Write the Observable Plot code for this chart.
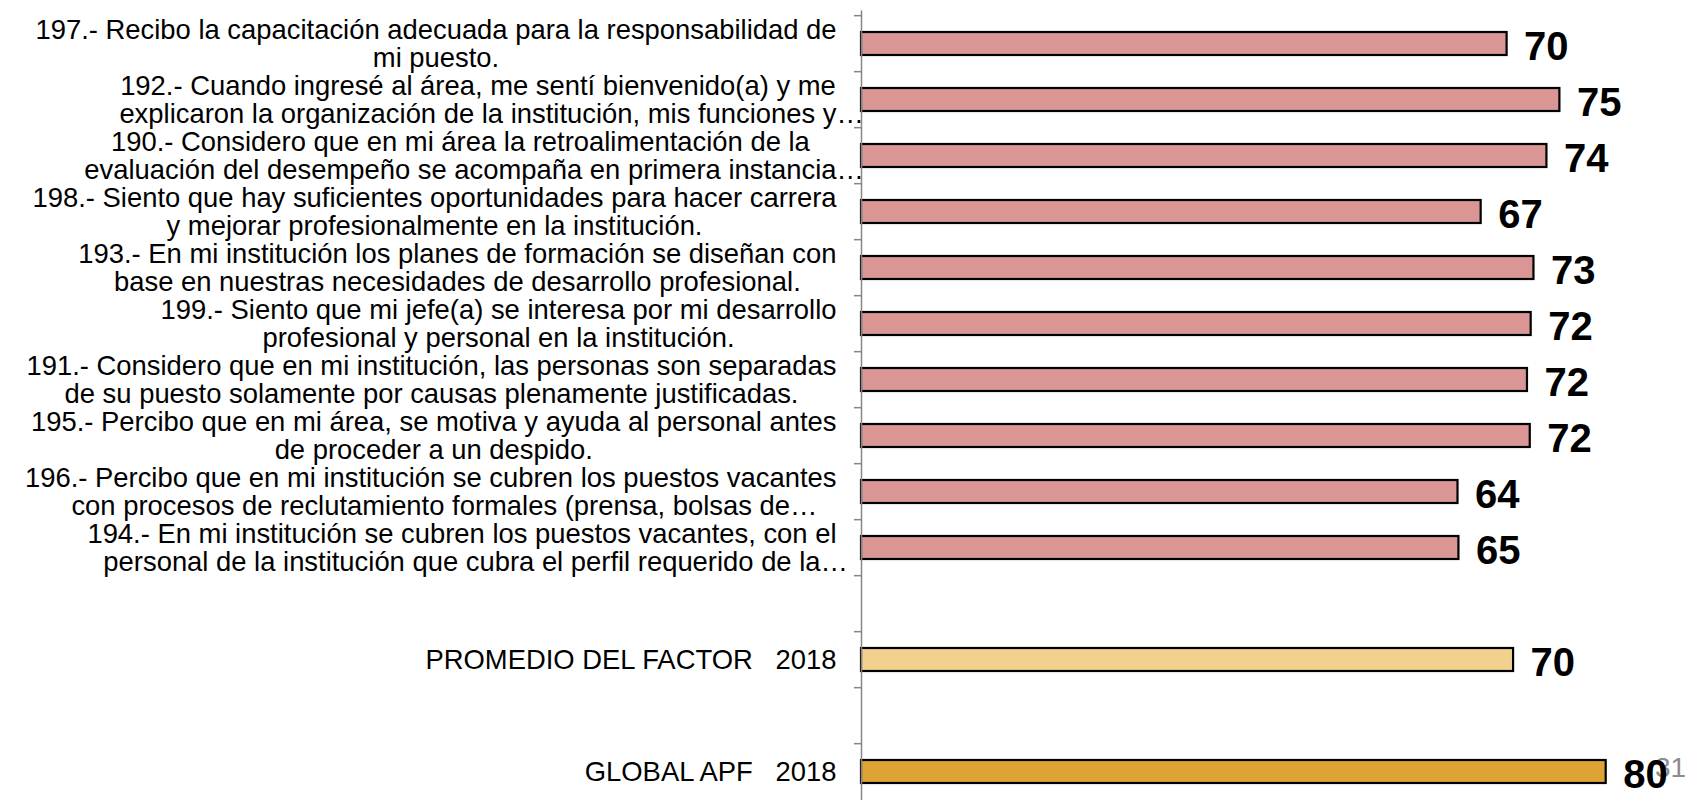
<!DOCTYPE html>
<html>
<head>
<meta charset="utf-8">
<script src="https://cdn.jsdelivr.net/npm/d3@7"></script>
<script src="https://cdn.jsdelivr.net/npm/@observablehq/plot@0.6"></script>
<style>
  html, body { margin: 0; padding: 0; background: #fff; overflow: hidden; }
  #page { position: relative; width: 1689px; height: 800px; }
  #pagenum { position: absolute; left: 1655px; top: 754px; font: 28px "Liberation Sans", Arial, sans-serif; color: #8c8c8c; line-height: 1; }
  #chart { position: absolute; left: 0; top: 0; }
</style>
</head>
<body>
<div id="page">
  <div id="pagenum">31</div>
  <div id="chart"></div>
</div>
<script>
// ---- data ----
const questionIds = ["197", "192", "190", "198", "193", "199", "191", "195", "196", "194"];
const questionLabels = [
  "197.- Recibo la capacitación adecuada para la responsabilidad de\nmi puesto.",
  "192.- Cuando ingresé al área, me sentí bienvenido(a) y me\nexplicaron la organización de la institución, mis funciones y…",
  "190.- Considero que en mi área la retroalimentación de la\nevaluación del desempeño se acompaña en primera instancia…",
  "198.- Siento que hay suficientes oportunidades para hacer carrera\ny mejorar profesionalmente en la institución.",
  "193.- En mi institución los planes de formación se diseñan con\nbase en nuestras necesidades de desarrollo profesional.",
  "199.- Siento que mi jefe(a) se interesa por mi desarrollo\nprofesional y personal en la institución.",
  "191.- Considero que en mi institución, las personas son separadas\nde su puesto solamente por causas plenamente justificadas.",
  "195.- Percibo que en mi área, se motiva y ayuda al personal antes\nde proceder a un despido.",
  "196.- Percibo que en mi institución se cubren los puestos vacantes\ncon procesos de reclutamiento formales (prensa, bolsas de…",
  "194.- En mi institución se cubren los puestos vacantes, con el\npersonal de la institución que cubra el perfil requerido de la…"
];
const questionScores = [69.7, 75.4, 74.0, 66.9, 72.6, 72.3, 71.9, 72.2, 64.4, 64.5];

const summaryIds = ["PROMEDIO", "GLOBAL"];
const summaryLabels = ["PROMEDIO DEL FACTOR\u00a0\u00a0 2018", "GLOBAL APF\u00a0\u00a0 2018"];
const summaryScores = [70.4, 80.4];

const spacerIds = ["gap1", "gap2"];
const rowOrder = [...questionIds, spacerIds[0], summaryIds[0], spacerIds[1], summaryIds[1]];

const questionColor = "#D99694";
const summaryColors = ["#F2D18F", "#DDA334"];

// ---- table built from the arrays ----
const rows = [
  ...questionIds.map((id, i) => ({id, label: questionLabels[i], score: questionScores[i], color: questionColor})),
  ...summaryIds.map((id, i) => ({id, label: summaryLabels[i], score: summaryScores[i], color: summaryColors[i]}))
];

// ---- layout ----
const W = 1689, H = 804, MT = 10.5, MB = 0, ML = 861, MR = 87;
const step = (H - MT - MB) / rowOrder.length;
const font = '"Liberation Sans", Arial, sans-serif';

const chart = Plot.plot({
  width: W,
  height: H,
  marginTop: MT,
  marginBottom: MB,
  marginLeft: ML,
  marginRight: MR,
  style: {fontFamily: font, background: "transparent", color: "#868686", overflow: "visible"},
  x: {domain: [0, 80], axis: null},
  y: {domain: rowOrder, paddingInner: 0.59, paddingOuter: 0.295, axis: null},
  marks: [
    Plot.axisY({tickSize: 7, tickFormat: () => "", label: null, stroke: "#868686", strokeWidth: 1.5, dy: -step / 2}),
    Plot.barX(rows, {x: "score", y: "id", fill: "color", stroke: "black", strokeWidth: 2.2}),
    Plot.ruleX([0], {stroke: "#868686", strokeWidth: 1.5}),
    Plot.text(rows, {
      x: "score", y: "id", text: d => String(Math.round(d.score)),
      textAnchor: "start", dx: 17, dy: 3, fontSize: 40, fontWeight: "bold", fill: "black"
    }),
    Plot.text(rows, {
      y: "id", text: "label", frameAnchor: "left", textAnchor: "end",
      dx: -25, fontSize: 27.4, lineHeight: 28 / 27.4, fill: "black"
    })
  ]
});

document.getElementById("chart").appendChild(chart);

// centre the wrapped lines of each category label (trailing ellipsis hangs to the right)
chart.querySelectorAll("text").forEach(t => {
  const spans = Array.from(t.querySelectorAll("tspan"));
  if (spans.length < 2) return;
  const widths = spans.map(s => {
    const str = s.textContent;
    let w = s.getComputedTextLength();
    if (str.endsWith("…")) {
      try { w = s.getSubStringLength(0, str.length - 1); } catch (e) { w = w - 27; }
    }
    return w;
  });
  const maxW = Math.max(...widths);
  t.setAttribute("text-anchor", "start");
  spans.forEach((s, i) => s.setAttribute("x", -maxW / 2 - widths[i] / 2));
});
</script>
</body>
</html>
